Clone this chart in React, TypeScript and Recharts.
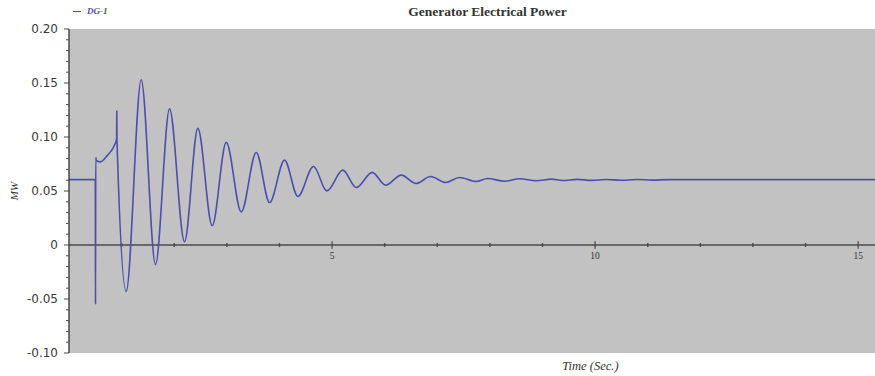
import React from 'react';
import { LineChart, Line, XAxis, YAxis, CartesianGrid, ReferenceLine, Legend } from 'recharts';

// Time (s) and generator electrical power (MW)
const timeSec = [
  0, 0.5, 0.502, 0.504, 0.508, 0.52, 0.6, 0.73, 0.85, 0.905, 0.908, 0.912,
  1.087, 1.373, 1.644, 1.911, 2.196, 2.449, 2.722, 2.989, 3.274, 3.559, 3.812,
  4.097, 4.35, 4.648, 4.901, 5.205, 5.46, 5.764, 6.017, 6.316, 6.601, 6.873,
  7.158, 7.424, 7.741, 7.956, 8.279, 8.565, 8.88, 9.17, 9.38, 9.66, 9.93,
  10.21, 10.49, 10.79, 11.09, 11.4, 12.5, 14.0, 15.32,
];
const powerMW = [
  0.0605, 0.0605, 0.015, -0.055, 0.081, 0.078, 0.077, 0.083, 0.091, 0.098, 0.124, 0.097,
  -0.043, 0.153, -0.018, 0.126, 0.003, 0.108, 0.018, 0.095, 0.0306, 0.0857, 0.0393,
  0.0786, 0.0449, 0.0727, 0.0501, 0.0693, 0.0532, 0.0672, 0.0554, 0.0647, 0.057, 0.0634,
  0.0579, 0.0625, 0.0588, 0.0616, 0.059, 0.0614, 0.0595, 0.061, 0.0597, 0.0608, 0.0598,
  0.0607, 0.0599, 0.0606, 0.0601, 0.0605, 0.0605, 0.0605, 0.0605,
];

const seriesName = 'DG-1';
const chartTitle = 'Generator Electrical Power';
const yAxisTitle = 'MW';
const xAxisTitle = 'Time (Sec.)';

const yMajorTicks = [0.2, 0.15, 0.1, 0.05, 0, -0.05, -0.1];
const yTickLabels = ['0.20', '0.15', '0.10', '0.05', '0', '-0.05', '-0.10'];
const yMinorTicks = [
  -0.1, -0.09, -0.08, -0.07, -0.06, -0.05, -0.04, -0.03, -0.02, -0.01, 0,
  0.01, 0.02, 0.03, 0.04, 0.05, 0.06, 0.07, 0.08, 0.09, 0.1,
  0.11, 0.12, 0.13, 0.14, 0.15, 0.16, 0.17, 0.18, 0.19, 0.2,
];
const xMinorTicks = [1, 2, 3, 4, 6, 7, 8, 9, 11, 12, 13, 14];
const xMajorTicks = [5, 10, 15];
const xTickLabels = ['5', '10', '15'];

const data = timeSec.map((t, i) => ({ t, p: powerMW[i] }));

const LINE_COLOR = '#4d4db0';
const AXIS_COLOR = '#4a4a4a';

function YTick(props: any) {
  const { x, y, payload } = props;
  const v = payload.value;
  const idx = yMajorTicks.findIndex((m) => Math.abs(m - v) < 1e-9);
  const major = idx >= 0;
  return (
    <g>
      <line x1={x - (major ? 5 : 3)} x2={x} y1={y} y2={y} stroke={AXIS_COLOR} strokeWidth={1} />
      {major && (
        <text
          x={x - 11}
          y={y}
          dy={4}
          textAnchor="end"
          fontSize={12}
          fontFamily="DejaVu Sans"
          fill="#3a3a3a"
        >
          {yTickLabels[idx]}
        </text>
      )}
    </g>
  );
}

function YLabel(props: any) {
  const { viewBox } = props;
  const cx = viewBox.x + 14;
  const cy = viewBox.y + viewBox.height / 2;
  return (
    <text
      x={cx}
      y={cy}
      transform={`rotate(-90 ${cx} ${cy})`}
      textAnchor="middle"
      dominantBaseline="central"
      fontSize={11}
      fontStyle="italic"
      fontFamily="Liberation Serif"
      fill="#333"
    >
      {yAxisTitle}
    </text>
  );
}

function XLabel(props: any) {
  const { viewBox } = props;
  return (
    <text
      x={viewBox.x + viewBox.width * 0.647}
      y={viewBox.y + 17}
      textAnchor="middle"
      fontSize={12.5}
      fontStyle="italic"
      fontFamily="Liberation Serif"
      fill="#333"
    >
      {xAxisTitle}
    </text>
  );
}

function LegendContent() {
  return (
    <div
      style={{
        fontFamily: 'Liberation Serif',
        fontStyle: 'italic',
        fontWeight: 'bold',
        fontSize: 9,
        color: LINE_COLOR,
        display: 'flex',
        alignItems: 'center',
        lineHeight: '10px',
      }}
    >
      <span
        style={{ display: 'inline-block', width: 8, height: 0, borderTop: `1.5px solid ${LINE_COLOR}`, marginRight: 6 }}
      />
      <span>{seriesName}</span>
    </div>
  );
}

export default function App() {
  return (
    <div style={{ position: 'absolute', left: 0, top: 0, width: 875, height: 376, background: '#fff' }}>
      <div
        style={{
          position: 'absolute',
          left: 0,
          top: 4,
          width: 975,
          textAlign: 'center',
          fontFamily: 'Liberation Serif',
          fontWeight: 'bold',
          fontSize: 13.5,
          color: '#333',
          lineHeight: '16px',
          zIndex: 2,
        }}
      >
        {chartTitle}
      </div>
      <LineChart width={875} height={376} data={data} margin={{ top: 29, right: 0, bottom: 0, left: 0 }}>
        <CartesianGrid fill="#c2c2c2" stroke="none" horizontal={false} vertical={false} />
        <XAxis
          type="number"
          dataKey="t"
          domain={[0, 15.32]}
          allowDataOverflow
          axisLine={false}
          tickLine={false}
          tick={false}
          height={23}
          label={<XLabel />}
        />
        <YAxis
          type="number"
          domain={[-0.1, 0.2]}
          ticks={yMinorTicks}
          interval={0}
          width={69}
          tickSize={0}
          tickMargin={0}
          tickLine={false}
          axisLine={{ stroke: AXIS_COLOR, strokeWidth: 1.5 }}
          tick={<YTick />}
          label={<YLabel />}
        />
        <Legend
          layout="horizontal"
          verticalAlign="middle"
          align="center"
          content={<LegendContent />}
          wrapperStyle={{ top: 6, left: 73, width: 'auto', height: 'auto' }}
        />
        <ReferenceLine y={0} stroke={AXIS_COLOR} strokeWidth={1.5} />
        {xMinorTicks.map((t) => (
          <ReferenceLine
            key={`m${t}`}
            segment={[{ x: t, y: -0.0018 }, { x: t, y: 0.0018 }]}
            stroke={AXIS_COLOR}
            strokeWidth={1.5}
          />
        ))}
        {xMajorTicks.map((t, i) => (
          <ReferenceLine
            key={`M${t}`}
            segment={[{ x: t, y: -0.0035 }, { x: t, y: 0.0035 }]}
            stroke={AXIS_COLOR}
            strokeWidth={1.2}
            label={{
              value: xTickLabels[i],
              position: 'bottom',
              offset: 3,
              fontSize: 9.5,
              fontFamily: 'Liberation Serif',
              fill: '#333',
            }}
          />
        ))}
        <Line
          type="monotone"
          dataKey="p"
          name={seriesName}
          stroke={LINE_COLOR}
          strokeWidth={1.6}
          dot={false}
          activeDot={false}
          isAnimationActive={false}
        />
      </LineChart>
    </div>
  );
}
